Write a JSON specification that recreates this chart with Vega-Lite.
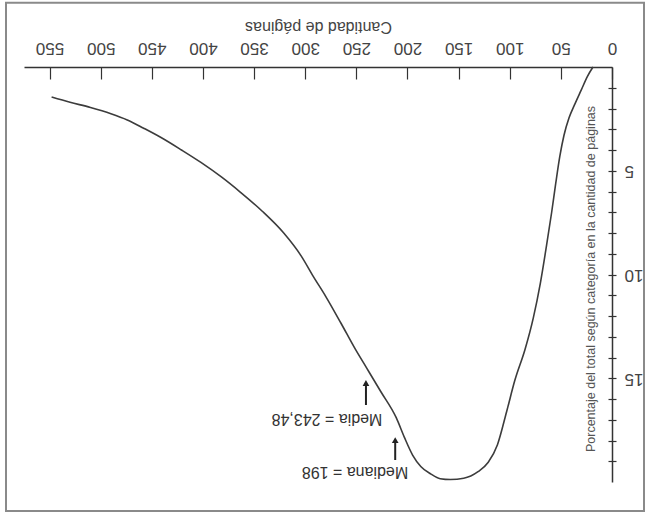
{
  "$schema": "https://vega.github.io/schema/vega-lite/v6.json",
  "width": 588,
  "height": 415,
  "autosize": {"type": "none"},
  "padding": {"left": 24, "top": 67, "right": 36, "bottom": 34},
  "background": "white",
  "config": {"view": {"stroke": null}, "font": "Liberation Sans"},
  "datasets": {
    "curve": [
      {"pages": 18.6, "pct": 0}, {"pages": 24, "pct": 0.45}, {"pages": 30, "pct": 1.1}, {"pages": 36, "pct": 1.75},
      {"pages": 42, "pct": 2.45}, {"pages": 47, "pct": 3.3}, {"pages": 51, "pct": 4.3}, {"pages": 55, "pct": 5.6},
      {"pages": 59, "pct": 7.0}, {"pages": 64, "pct": 8.6}, {"pages": 70, "pct": 10.4}, {"pages": 77, "pct": 12.1},
      {"pages": 85, "pct": 13.6}, {"pages": 95, "pct": 15.1}, {"pages": 103, "pct": 16.6}, {"pages": 112, "pct": 18.2},
      {"pages": 121, "pct": 19.05}, {"pages": 131, "pct": 19.5}, {"pages": 145, "pct": 19.82}, {"pages": 158, "pct": 19.88},
      {"pages": 168, "pct": 19.84}, {"pages": 177, "pct": 19.62}, {"pages": 187, "pct": 19.25}, {"pages": 195, "pct": 18.7},
      {"pages": 203, "pct": 17.85}, {"pages": 211, "pct": 16.9}, {"pages": 226, "pct": 15.65}, {"pages": 240, "pct": 14.5},
      {"pages": 251, "pct": 13.6}, {"pages": 265, "pct": 12.35}, {"pages": 280, "pct": 11.05}, {"pages": 292, "pct": 10.1},
      {"pages": 304, "pct": 9.1}, {"pages": 321, "pct": 8.0}, {"pages": 342, "pct": 6.95}, {"pages": 363, "pct": 6.05},
      {"pages": 382, "pct": 5.3}, {"pages": 402, "pct": 4.6}, {"pages": 421, "pct": 4.0}, {"pages": 441, "pct": 3.4},
      {"pages": 458, "pct": 2.95}, {"pages": 474, "pct": 2.55}, {"pages": 490, "pct": 2.25}, {"pages": 510, "pct": 1.95},
      {"pages": 530, "pct": 1.7}, {"pages": 548, "pct": 1.45}
    ],
    "notes": [
      {"label": "Media = 243,48", "tx": 278.7, "ty": 16.96},
      {"label": "Mediana = 198", "tx": 251.3, "ty": 19.52}
    ],
    "arrows": [
      {"name": "Media", "ax": 240.6, "head": 15.23, "tail": 16.29},
      {"name": "Mediana", "ax": 212, "head": 17.98, "tail": 18.94}
    ]
  },
  "layer": [
    {
      "data": {"values": [{}]},
      "mark": {"type": "rect", "fill": null, "stroke": "#8a8a8a", "strokeWidth": 2},
      "encoding": {
        "x": {"datum": 592.6, "type": "quantitative", "axis": null, "scale": {"domain": [0, 575], "reverse": true, "nice": false, "zero": false}},
        "x2": {"datum": -31.3},
        "y": {"datum": -3.1, "type": "quantitative", "axis": null, "scale": {"domain": [0, 20], "reverse": true, "nice": false, "zero": false}},
        "y2": {"datum": 21.4}
      }
    },
    {
      "data": {"name": "curve"},
      "mark": {"type": "line", "stroke": "#3c3c3c", "strokeWidth": 1.6, "interpolate": "monotone"},
      "encoding": {
        "x": {
          "field": "pages", "type": "quantitative",
          "scale": {"domain": [0, 575], "reverse": true, "nice": false, "zero": false},
          "axis": {
            "orient": "top", "values": [0, 50, 100, 150, 200, 250, 300, 350, 400, 450, 500, 550],
            "offset": -12, "domain": false,
            "grid": false, "tickSize": 12, "tickColor": "#333", "tickWidth": 1.2,
            "labelAngle": 180, "labelFontSize": 17, "labelColor": "#444", "labelPadding": 12,
            "labelBaseline": "top", "labelAlign": "center",
            "labelFlush": false, "labelOverlap": false,
            "title": "Cantidad de páginas", "titleAngle": 180, "titleFontSize": 16, "titleFontWeight": "normal",
            "titleColor": "#444", "titleX": 294, "titleY": -53, "titleAlign": "center", "titleBaseline": "middle"
          }
        },
        "y": {
          "field": "pct", "type": "quantitative",
          "scale": {"domain": [0, 20], "reverse": true, "nice": false, "zero": false},
          "axis": {
            "orient": "right", "values": [1, 2, 3, 4, 5, 6, 7, 8, 9, 10, 11, 12, 13, 14, 15, 16, 17, 18, 19],
            "offset": -4, "domain": false, "grid": false, "tickSize": 8, "tickColor": "#333", "tickWidth": 1.2,
            "labelExpr": "datum.value % 5 === 0 ? datum.label : ''",
            "labelAngle": 180, "labelFontSize": 17, "labelColor": "#444", "labelPadding": 8, "labelOverlap": false,
            "title": "Porcentaje del total según categoría en la cantidad de páginas",
            "titleAngle": -90, "titleFontSize": 12.5, "titleFontWeight": "normal", "titleColor": "#555",
            "titleX": -18, "titleY": 211.5, "titleAlign": "center", "titleBaseline": "middle"
          }
        }
      }
    },
    {
      "data": {"name": "arrows"},
      "mark": {"type": "rule", "stroke": "#222", "strokeWidth": 2},
      "encoding": {
        "x": {"field": "ax", "type": "quantitative",
          "axis": {"orient": "top", "domain": true, "domainColor": "#333", "domainWidth": 1.5,
                   "ticks": false, "labels": false, "title": null, "grid": false}},
        "y": {"field": "head", "type": "quantitative",
          "axis": {"orient": "right", "domain": true, "domainColor": "#333", "domainWidth": 1.5,
                   "ticks": false, "labels": false, "title": null, "grid": false}},
        "y2": {"field": "tail"}
      }
    },
    {
      "data": {"name": "arrows"},
      "mark": {"type": "point", "shape": "triangle-up", "filled": true, "color": "#222", "size": 45, "opacity": 1},
      "encoding": {
        "x": {"field": "ax", "type": "quantitative", "axis": null},
        "y": {"field": "head", "type": "quantitative", "axis": null}
      }
    },
    {
      "data": {"name": "notes"},
      "mark": {"type": "text", "angle": 180, "align": "center", "baseline": "middle", "fontSize": 16, "color": "#333"},
      "encoding": {
        "x": {"field": "tx", "type": "quantitative", "axis": null},
        "y": {"field": "ty", "type": "quantitative", "axis": null},
        "text": {"field": "label"}
      }
    }
  ],
  "resolve": {"axis": {"x": "independent", "y": "independent"}}
}
